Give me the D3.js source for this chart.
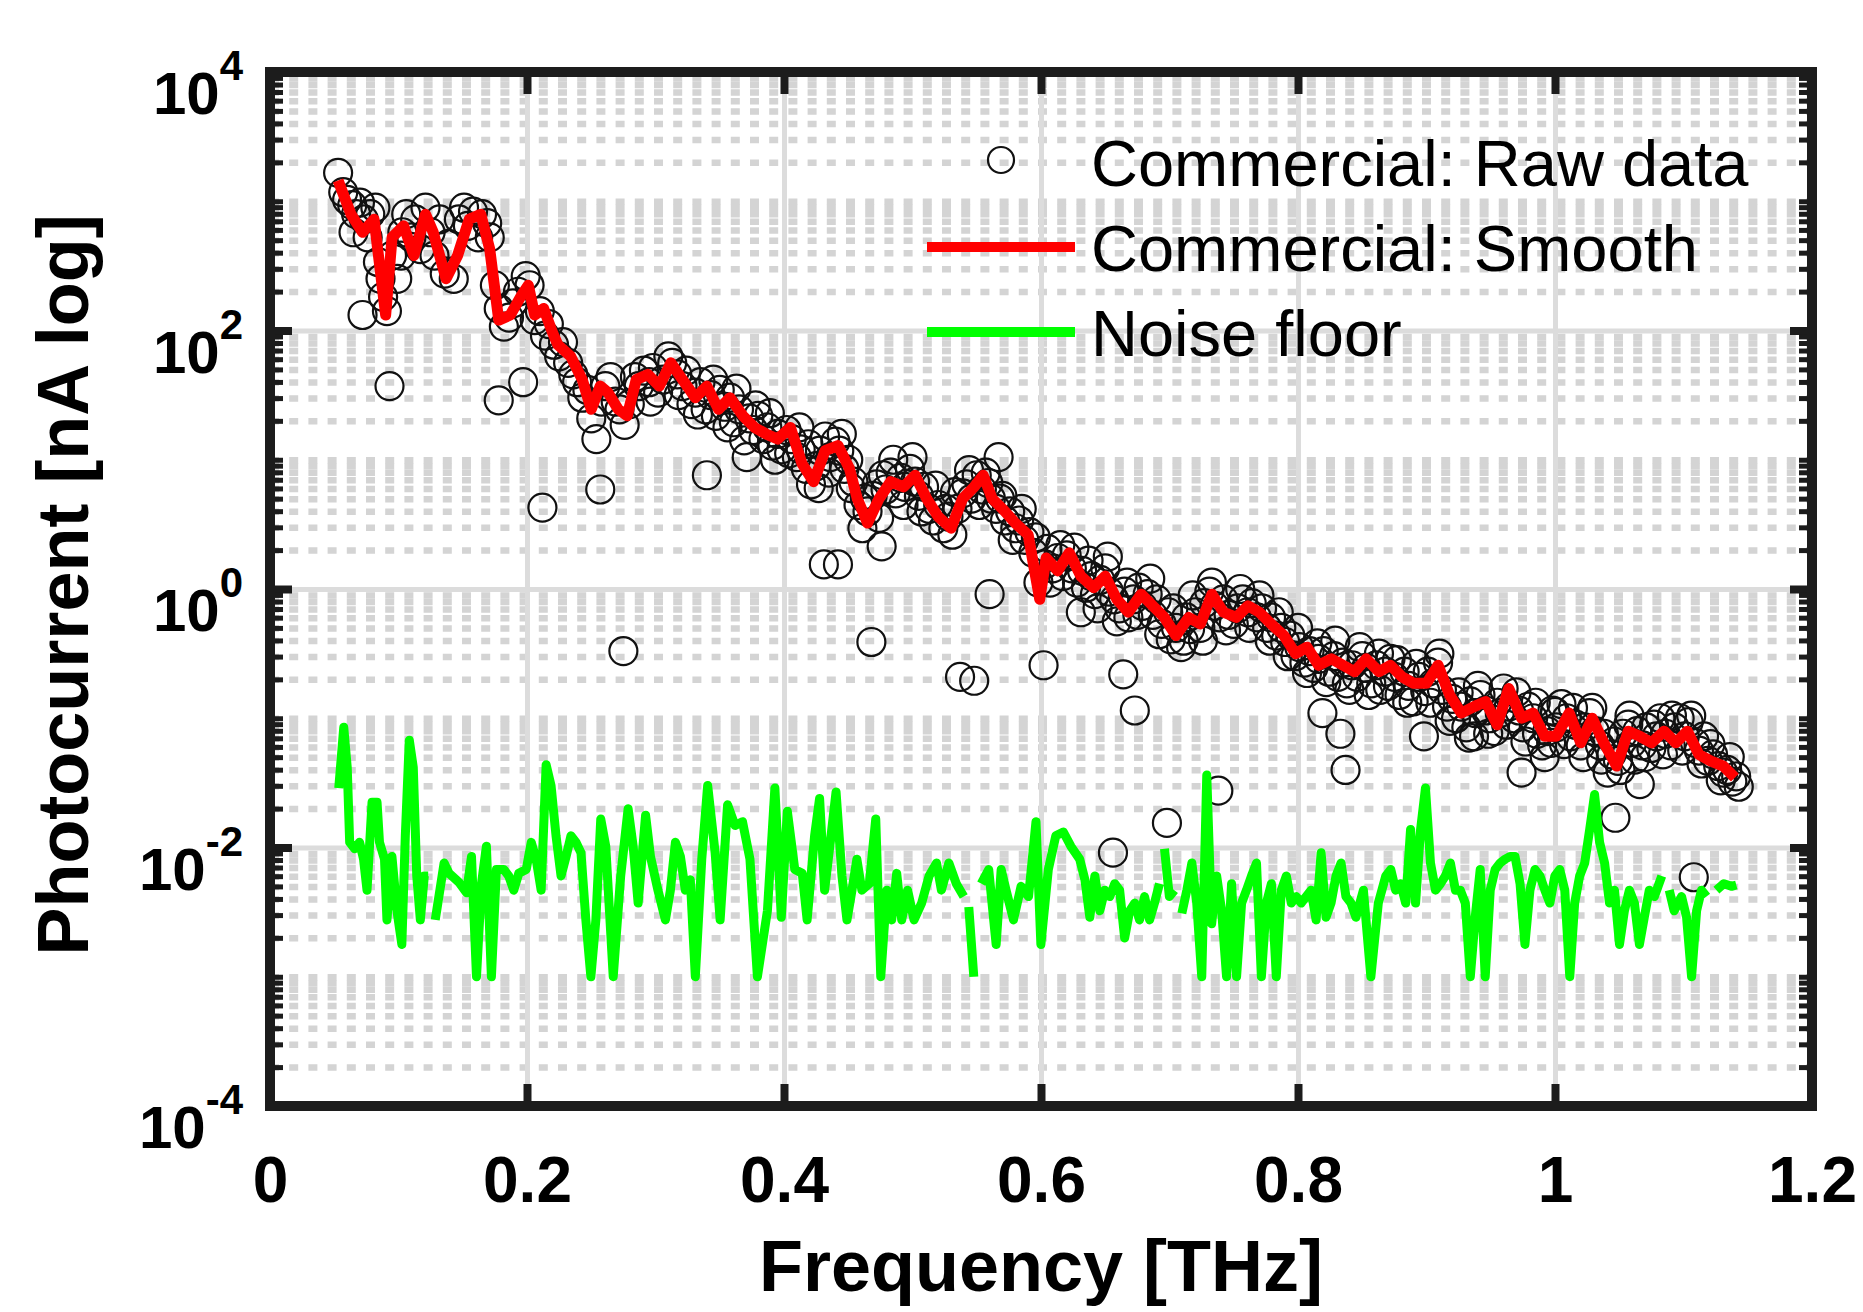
<!DOCTYPE html>
<html>
<head>
<meta charset="utf-8">
<script src="https://cdn.jsdelivr.net/npm/d3@7"></script>
<style>
    html, body { margin: 0; padding: 0; background: #fff; }
    svg { display: block; }
    text { font-family: "Liberation Sans", Arial, Helvetica, sans-serif; fill: #000; }
</style>
</head>
<body>
<svg id="chart" width="1863" height="1312"></svg>
<script>
/* Chart data */
/* ********** */

// x axis [THz]
var xTicks = [0, 0.2, 0.4, 0.6, 0.8, 1, 1.2];
var xTickLabels = ['0', '0.2', '0.4', '0.6', '0.8', '1', '1.2'];

// y axis: labelled decades, as exponents of ten
var yTickExps = [-4, -2, 0, 2, 4];

var legendLabels = ['Commercial: Raw data', 'Commercial: Smooth', 'Noise floor'];

// Raw data: [frequency THz, log10 of photocurrent in nA]
var rawData = [
    [0.053,3.22],[0.057,3.07],[0.060,3.01],[0.064,2.97],[0.065,2.76],[0.067,2.90],[0.070,2.99],[0.072,2.12],
    [0.073,2.86],[0.076,2.72],[0.078,2.90],[0.082,2.95],[0.084,2.53],[0.086,2.40],[0.088,2.26],[0.091,2.15],
    [0.093,1.57],[0.095,2.58],[0.099,2.40],[0.102,2.58],[0.103,2.76],[0.106,2.90],[0.110,2.72],[0.113,2.86],
    [0.117,2.63],[0.121,2.95],[0.125,2.76],[0.128,2.58],[0.132,2.86],[0.136,2.44],[0.139,2.67],[0.143,2.40],
    [0.147,2.86],[0.151,2.95],[0.154,2.81],[0.158,2.92],[0.162,2.72],[0.165,2.90],[0.169,2.83],[0.171,2.72],
    [0.175,2.35],[0.178,2.17],[0.178,1.46],[0.182,2.03],[0.186,2.10],[0.189,2.21],[0.193,2.30],[0.197,1.60],
    [0.199,2.42],[0.202,2.35],[0.206,2.08],[0.210,2.15],[0.212,0.63],[0.214,1.96],[0.217,2.05],[0.221,1.89],
    [0.225,1.80],[0.228,1.91],[0.232,1.75],[0.236,1.66],[0.239,1.60],[0.243,1.48],[0.247,1.54],[0.250,1.32],
    [0.254,1.16],[0.257,0.77],[0.258,1.45],[0.261,1.57],[0.265,1.64],[0.269,1.45],[0.272,1.39],[0.275,-0.48],
    [0.276,1.27],[0.280,1.43],[0.284,1.64],[0.287,1.57],[0.291,1.69],[0.295,1.60],[0.298,1.71],[0.302,1.52],
    [0.306,1.62],[0.310,1.80],[0.313,1.75],[0.317,1.66],[0.321,1.57],[0.324,1.69],[0.328,1.43],[0.331,1.52],
    [0.335,1.60],[0.339,1.39],[0.340,0.88],[0.343,1.50],[0.347,1.34],[0.350,1.54],[0.354,1.41],[0.358,1.48],
    [0.361,1.29],[0.365,1.39],[0.371,1.02],[0.373,1.32],[0.376,1.23],[0.380,1.34],[0.384,1.16],[0.387,1.25],
    [0.391,1.11],[0.395,1.20],[0.398,1.08],[0.402,1.23],[0.406,1.16],[0.410,1.02],[0.413,1.08],[0.417,0.93],
    [0.421,0.81],[0.425,0.95],[0.428,1.07],[0.431,0.19],[0.432,1.18],[0.436,1.02],[0.440,1.14],[0.442,0.19],
    [0.443,1.07],[0.447,0.93],[0.450,1.00],[0.454,0.83],[0.458,0.65],[0.461,0.47],[0.465,0.60],[0.468,-0.41],
    [0.469,0.72],[0.472,0.81],[0.476,0.33],[0.477,0.88],[0.479,0.77],[0.483,0.90],[0.487,0.74],[0.491,0.86],
    [0.494,0.79],[0.498,0.93],[0.502,0.83],[0.505,0.72],[0.509,0.79],[0.513,0.62],[0.516,0.53],[0.520,0.65],
    [0.524,0.47],[0.528,0.56],[0.531,0.42],[0.535,0.62],[0.537,-0.68],[0.539,0.74],[0.542,0.81],[0.546,0.70],
    [0.548,-0.71],[0.550,0.88],[0.554,0.77],[0.557,0.90],[0.560,-0.04],[0.561,0.70],[0.565,0.62],[0.567,1.02],
    [0.568,0.70],[0.572,0.53],[0.576,0.60],[0.580,0.47],[0.583,0.53],[0.587,0.38],[0.591,0.44],[0.594,0.28],
    [0.598,0.05],[0.602,-0.59],[0.603,0.19],[0.605,0.31],[0.609,0.16],[0.613,0.24],[0.617,0.10],[0.620,0.26],
    [0.624,0.16],[0.628,0.05],[0.631,-0.18],[0.632,0.14],[0.635,0.01],[0.639,0.10],[0.642,-0.04],[0.646,0.07],
    [0.650,0.16],[0.653,-0.02],[0.656,-2.04],[0.657,-0.08],[0.661,-0.15],[0.664,-0.66],[0.665,-0.02],[0.668,-0.22],
    [0.672,-0.08],[0.673,-0.94],[0.676,0.01],[0.679,-0.13],[0.683,-0.04],[0.687,-0.20],[0.690,-0.08],[0.694,-0.27],
    [0.698,-1.81],[0.699,-0.18],[0.701,-0.39],[0.705,-0.30],[0.709,-0.45],[0.713,-0.22],[0.716,-0.31],[0.720,-0.18],
    [0.724,-0.30],[0.727,-0.11],[0.731,-0.02],[0.735,-0.13],[0.738,-1.56],[0.739,-0.22],[0.742,-0.08],[0.746,-0.20],
    [0.750,-0.27],[0.753,-0.15],[0.757,-0.08],[0.761,-0.18],[0.764,-0.11],[0.768,-0.22],[0.772,-0.15],[0.776,-0.30],
    [0.779,-0.22],[0.783,-0.36],[0.787,-0.30],[0.790,-0.41],[0.794,-0.36],[0.798,-0.52],[0.801,-0.45],[0.805,-0.57],
    [0.809,-0.48],[0.812,-0.61],[0.816,-0.54],[0.819,-0.96],[0.820,-0.48],[0.824,-0.64],[0.828,-0.52],[0.831,-0.68],
    [0.833,-1.12],[0.835,-0.57],[0.837,-1.40],[0.838,-0.73],[0.842,-0.59],[0.846,-0.68],[0.850,-0.52],[0.853,-0.61],
    [0.857,-0.73],[0.861,-0.59],[0.864,-0.78],[0.868,-0.64],[0.872,-0.54],[0.875,-0.68],[0.879,-0.82],[0.883,-0.64],
    [0.886,-0.75],[0.890,-0.87],[0.894,-0.68],[0.898,-1.14],[0.899,-0.79],[0.901,-0.64],[0.905,-0.73],[0.909,-0.57],
    [0.912,-0.78],[0.916,-0.91],[0.920,-0.85],[0.923,-1.00],[0.927,-0.91],[0.931,-1.07],[0.934,-0.87],[0.937,-1.14],
    [0.938,-0.96],[0.942,-0.82],[0.946,-0.94],[0.949,-1.00],[0.953,-1.10],[0.957,-0.96],[0.960,-0.77],[0.964,-0.91],
    [0.968,-1.00],[0.972,-0.94],[0.974,-1.42],[0.975,-1.07],[0.979,-0.91],[0.983,-1.00],[0.986,-1.12],[0.990,-1.21],
    [0.994,-1.10],[0.997,-1.19],[0.998,-0.94],[1.001,-1.07],[1.005,-0.89],[1.009,-1.00],[1.012,-1.14],[1.016,-1.05],
    [1.020,-1.21],[1.023,-1.07],[1.027,-0.96],[1.031,-1.10],[1.035,-1.21],[1.038,-1.12],[1.041,-1.42],[1.044,-1.28],
    [1.047,-1.77],[1.049,-1.33],[1.053,-1.12],[1.057,-1.05],[1.060,-1.19],[1.064,-1.10],[1.066,-1.51],[1.068,-1.21],
    [1.071,-1.07],[1.075,-1.23],[1.079,-1.14],[1.082,-1.00],[1.086,-1.12],[1.090,-1.21],[1.093,-1.07],[1.097,-1.00],
    [1.101,-1.14],[1.104,-1.03],[1.108,-2.23],[1.109,-1.19],[1.112,-1.25],[1.116,-1.14],[1.119,-1.33],[1.123,-1.28],
    [1.127,-1.37],[1.131,-1.42],[1.134,-1.40],[1.138,-1.49],[1.143,-1.53],
    // edges of the scattered band
    [0.296,1.45],[0.318,1.50],[0.333,1.35],[0.345,1.62],[0.356,1.25],[0.363,1.55],[0.369,1.15],[0.378,1.42],
    [0.389,1.36],[0.393,1.00],[0.404,1.05],[0.412,1.25],[0.419,1.12],[0.427,0.78],[0.435,0.90],[0.445,1.20],
    [0.452,0.78],[0.463,0.70],[0.474,0.55],[0.485,1.00],[0.493,0.65],[0.500,1.02],[0.507,0.60],[0.518,0.80],
    [0.526,0.62],[0.533,0.75],[0.544,0.92],[0.552,0.65],[0.559,0.82],[0.570,0.72],[0.578,0.38],[0.585,0.62],
    [0.596,0.40],[0.607,0.05],[0.615,0.34],[0.626,0.32],[0.637,0.22],[0.644,-0.15],[0.652,0.25],[0.659,-0.25],
    [0.667,0.05],[0.675,-0.20],[0.685,0.08],[0.692,-0.35],[0.703,-0.15],[0.711,-0.40],[0.718,-0.05],[0.726,-0.40],
    [0.733,0.05],[0.744,-0.32],[0.755,0.00],[0.762,-0.30],[0.770,-0.05],[0.778,-0.40],[0.785,-0.18],[0.792,-0.52],
    [0.800,-0.30],[0.807,-0.65],[0.815,-0.42],[0.822,-0.72],[0.829,-0.40],[0.840,-0.78],[0.848,-0.45],[0.855,-0.82],
    [0.863,-0.50],[0.870,-0.75],[0.877,-0.55],[0.885,-0.88],[0.892,-0.58],[0.903,-0.88],[0.910,-0.50],[0.918,-1.02],
    [0.925,-0.80],[0.933,-1.15],[0.940,-0.75],[0.948,-1.12],[0.955,-0.88],[0.962,-1.05],[0.970,-0.80],[0.977,-1.18],
    [0.985,-0.88],[0.992,-1.30],[1.000,-0.95],[1.007,-1.20],[1.014,-0.92],[1.022,-1.30],[1.029,-0.92],[1.036,-1.32],
    [1.046,-1.18],[1.051,-1.40],[1.058,-0.98],[1.062,-1.32],[1.070,-1.30],[1.077,-1.05],[1.084,-1.28],[1.091,-0.98],
    [1.099,-1.25],[1.106,-0.98],[1.114,-1.35],[1.121,-1.20],[1.129,-1.48],[1.136,-1.30],[1.141,-1.45]
];

// Smoothed data: [frequency THz, log10 of photocurrent in nA]
var smoothData = [
    [0.053,3.16],[0.063,2.90],[0.072,2.76],[0.081,2.86],[0.090,2.12],[0.095,2.72],[0.104,2.81],[0.112,2.58],
    [0.121,2.90],[0.127,2.76],[0.137,2.40],[0.146,2.58],[0.155,2.86],[0.164,2.90],[0.171,2.63],[0.178,2.08],
    [0.187,2.12],[0.195,2.26],[0.201,2.35],[0.206,2.12],[0.213,2.17],[0.220,1.98],[0.224,1.89],[0.234,1.80],
    [0.243,1.62],[0.250,1.39],[0.257,1.57],[0.263,1.52],[0.271,1.39],[0.278,1.34],[0.285,1.62],[0.294,1.66],
    [0.303,1.57],[0.312,1.75],[0.321,1.62],[0.331,1.48],[0.340,1.57],[0.349,1.39],[0.358,1.48],[0.368,1.34],
    [0.377,1.25],[0.386,1.20],[0.395,1.16],[0.405,1.25],[0.414,0.97],[0.423,0.83],[0.432,1.07],[0.442,1.11],
    [0.451,0.93],[0.457,0.70],[0.465,0.51],[0.474,0.70],[0.483,0.83],[0.493,0.79],[0.502,0.88],[0.511,0.70],
    [0.520,0.56],[0.530,0.47],[0.539,0.70],[0.548,0.79],[0.555,0.88],[0.562,0.70],[0.571,0.61],[0.580,0.51],
    [0.590,0.42],[0.599,-0.08],[0.604,0.24],[0.613,0.14],[0.622,0.28],[0.631,0.10],[0.641,0.01],[0.650,0.10],
    [0.659,-0.08],[0.668,-0.18],[0.678,-0.04],[0.687,-0.13],[0.696,-0.22],[0.705,-0.36],[0.715,-0.22],[0.724,-0.27],
    [0.733,-0.04],[0.742,-0.18],[0.752,-0.22],[0.761,-0.13],[0.770,-0.18],[0.779,-0.27],[0.789,-0.36],[0.798,-0.50],
    [0.807,-0.45],[0.816,-0.59],[0.826,-0.54],[0.835,-0.59],[0.844,-0.64],[0.853,-0.54],[0.863,-0.64],[0.872,-0.59],
    [0.881,-0.68],[0.890,-0.73],[0.900,-0.73],[0.909,-0.59],[0.918,-0.82],[0.927,-0.96],[0.937,-0.91],[0.946,-0.87],
    [0.955,-1.05],[0.964,-0.77],[0.974,-1.00],[0.983,-0.96],[0.992,-1.14],[1.001,-1.14],[1.011,-0.96],[1.020,-1.19],
    [1.029,-1.00],[1.038,-1.19],[1.048,-1.37],[1.057,-1.10],[1.066,-1.14],[1.075,-1.19],[1.085,-1.10],[1.094,-1.19],
    [1.103,-1.10],[1.112,-1.28],[1.121,-1.33],[1.131,-1.37],[1.140,-1.46]
];

// Noise floor: [frequency THz, log10 of photocurrent in nA], null marks a gap
var noiseData = [
    [0.0535,-1.54],[0.0574,-1.07],[0.0601,-1.38],[0.0620,-1.96],[0.0659,-2.01],[0.0697,-1.96],[0.0728,-2.09],
    [0.0755,-2.33],[0.0794,-1.65],[0.0833,-1.65],[0.0852,-1.96],[0.0891,-2.09],[0.0910,-2.56],[0.0949,-2.07],
    [0.0988,-2.49],[0.1026,-2.75],[0.1053,-1.91],[0.1084,-1.17],[0.1115,-1.38],[0.1142,-2.22],[0.1170,-2.56],
    [0.1201,-2.22],[0.1231,-2.22],null,
    [0.1286,-2.56],[0.1355,-2.12],[0.1394,-2.20],[0.1471,-2.27],[0.1529,-2.35],[0.1568,-2.07],[0.1607,-3.00],
    [0.1646,-2.28],[0.1684,-1.99],[0.1723,-3.00],[0.1762,-2.17],[0.1820,-2.17],[0.1858,-2.22],[0.1897,-2.33],
    [0.1936,-2.20],[0.1994,-2.17],[0.2033,-1.96],[0.2071,-2.09],[0.2110,-2.33],[0.2149,-1.36],[0.2187,-1.52],
    [0.2226,-1.91],[0.2265,-2.22],[0.2304,-2.07],[0.2342,-1.91],[0.2381,-1.96],[0.2420,-2.04],[0.2458,-2.56],
    [0.2497,-3.00],[0.2536,-2.56],[0.2574,-1.78],[0.2613,-1.99],[0.2671,-3.00],[0.2729,-2.22],[0.2787,-1.70],
    [0.2826,-1.99],[0.2865,-2.43],[0.2923,-1.75],[0.2961,-2.07],[0.3019,-2.33],[0.3077,-2.56],[0.3116,-2.33],
    [0.3155,-1.96],[0.3194,-2.07],[0.3232,-2.33],[0.3271,-2.25],[0.3310,-3.00],[0.3360,-2.09],[0.3406,-1.52],
    [0.3464,-2.04],[0.3503,-2.56],[0.3561,-1.67],[0.3619,-1.83],[0.3677,-1.80],[0.3735,-2.09],[0.3793,-3.00],
    [0.3871,-2.49],[0.3929,-1.54],[0.3979,-2.54],[0.4026,-1.72],[0.4084,-2.17],[0.4142,-2.20],[0.4180,-2.56],
    [0.4238,-1.91],[0.4277,-1.62],[0.4316,-2.33],[0.4366,-1.91],[0.4405,-1.57],[0.4451,-2.22],[0.4490,-2.56],
    [0.4529,-2.33],[0.4567,-2.09],[0.4606,-2.33],[0.4664,-2.28],[0.4714,-1.78],[0.4753,-3.00],[0.4800,-2.33],
    [0.4838,-2.56],[0.4877,-2.20],[0.4916,-2.56],[0.4962,-2.33],[0.5012,-2.56],[0.5071,-2.43],[0.5129,-2.22],
    [0.5187,-2.12],[0.5225,-2.33],[0.5283,-2.12],[0.5341,-2.28],[0.5399,-2.38],null,
    [0.5438,-2.46],[0.5477,-3.00],null,
    [0.5535,-2.28],[0.5593,-2.17],[0.5651,-2.75],[0.5690,-2.17],[0.5728,-2.33],[0.5786,-2.56],[0.5845,-2.30],
    [0.5903,-2.38],[0.5961,-1.80],[0.5999,-2.75],[0.6057,-2.17],[0.6115,-1.91],[0.6174,-1.88],[0.6232,-1.99],
    [0.6301,-2.09],[0.6342,-2.25],[0.6380,-2.54],[0.6419,-2.22],[0.6458,-2.49],[0.6496,-2.33],[0.6535,-2.38],
    [0.6574,-2.28],[0.6612,-2.33],[0.6651,-2.70],[0.6690,-2.49],[0.6729,-2.43],[0.6767,-2.56],[0.6806,-2.38],
    [0.6845,-2.56],[0.6883,-2.43],[0.6922,-2.28],null,
    [0.6961,-2.01],[0.6999,-2.38],[0.7038,-2.33],null,
    [0.7096,-2.51],[0.7135,-2.33],[0.7174,-2.12],[0.7212,-2.43],[0.7251,-3.00],[0.7290,-1.44],[0.7328,-2.59],
    [0.7367,-2.22],[0.7406,-2.49],[0.7444,-3.00],[0.7483,-2.28],[0.7522,-3.00],[0.7561,-2.43],[0.7599,-2.33],
    [0.7638,-2.22],[0.7677,-2.12],[0.7715,-3.00],[0.7754,-2.43],[0.7793,-2.28],[0.7831,-3.00],[0.7870,-2.33],
    [0.7909,-2.22],[0.7948,-2.43],[0.7986,-2.38],[0.8025,-2.43],[0.8064,-2.38],[0.8102,-2.33],[0.8141,-2.56],
    [0.8180,-2.04],[0.8218,-2.54],[0.8257,-2.43],[0.8296,-2.22],[0.8335,-2.12],[0.8373,-2.38],[0.8412,-2.43],
    [0.8451,-2.54],[0.8509,-2.33],[0.8567,-3.00],[0.8625,-2.43],[0.8683,-2.22],[0.8722,-2.17],[0.8760,-2.33],
    [0.8799,-2.28],[0.8838,-2.43],[0.8876,-1.86],[0.8915,-2.43],[0.8954,-1.86],[0.8992,-1.54],[0.9031,-2.12],
    [0.9070,-2.33],[0.9109,-2.28],[0.9147,-2.22],[0.9186,-2.12],[0.9225,-2.33],[0.9263,-2.33],[0.9302,-2.43],
    [0.9341,-3.00],[0.9379,-2.54],[0.9418,-2.17],[0.9457,-3.00],[0.9496,-2.33],[0.9534,-2.17],[0.9573,-2.12],
    [0.9612,-2.09],[0.9650,-2.07],[0.9689,-2.07],[0.9728,-2.28],[0.9766,-2.75],[0.9805,-2.33],[0.9844,-2.17],
    [0.9883,-2.22],[0.9921,-2.33],[0.9960,-2.43],[0.9999,-2.22],[1.0037,-2.17],[1.0076,-2.33],[1.0115,-3.00],
    [1.0153,-2.43],[1.0192,-2.22],[1.0231,-2.12],[1.0270,-1.86],[1.0308,-1.59],[1.0347,-1.96],[1.0386,-2.12],
    [1.0424,-2.43],[1.0463,-2.33],[1.0502,-2.75],[1.0540,-2.49],[1.0579,-2.33],[1.0618,-2.43],[1.0657,-2.75],
    [1.0695,-2.54],[1.0734,-2.33],[1.0773,-2.38],[1.0831,-2.22],null,
    [1.0889,-2.33],[1.0927,-2.49],[1.0985,-2.38],[1.1024,-2.54],[1.1063,-3.00],[1.1102,-2.49],[1.1140,-2.33],
    [1.1179,-2.38],null,
    [1.1256,-2.33],[1.1314,-2.28],[1.1373,-2.30],[1.1411,-2.29]
];


/* Layout */
/* ****** */
var svg = d3.select('#chart');

var box = { left: 270, right: 1812, top: 72, bottom: 1106 };
var plotW = box.right - box.left;
var plotH = box.bottom - box.top;

var x = d3.scaleLinear().domain([0, 1.2]).range([box.left, box.right]);
var y = d3.scaleLog().domain([1e-4, 1e4]).range([box.bottom, box.top]);

var toValue = function (d) {
    return d === null ? null : { f: d[0], v: Math.pow(10, d[1]) };
};
var raw = rawData.map(toValue);
var smooth = smoothData.map(toValue);
var noise = noiseData.map(toValue);

// Labelled decades vs. all the other log ticks
var yMajor = yTickExps.map(function (e) { return Math.pow(10, e); });
var isMajor = function (v) {
    return yMajor.some(function (m) { return Math.abs(Math.log10(v) - Math.log10(m)) < 1e-6; });
};
var yMinor = y.ticks().filter(function (v) { return !isMajor(v); });
var xInner = xTicks.filter(function (t) { return t > 0 && t < 1.2; });


/* Grid */
/* **** */
var grid = svg.append('g').attr('class', 'grid');

// dotted minor grid (log minor positions); the dots line up into stripes
grid.append('g')
    .attr('transform', 'translate(' + box.left + ',0)')
    .call(d3.axisLeft(y).tickValues(yMinor).tickSize(-plotW).tickFormat(''))
    .call(function (g) {
        g.select('.domain').remove();
        g.selectAll('line')
            .attr('stroke', '#d4d4d4')
            .attr('stroke-width', 6.5)
            .attr('stroke-dasharray', '9,10.2');
    });

// solid major grid
grid.append('g')
    .attr('transform', 'translate(' + box.left + ',0)')
    .call(d3.axisLeft(y).tickValues(yMajor.slice(1, -1)).tickSize(-plotW).tickFormat(''))
    .call(function (g) {
        g.select('.domain').remove();
        g.selectAll('line').attr('stroke', '#dcdcdc').attr('stroke-width', 5);
    });

grid.append('g')
    .attr('transform', 'translate(0,' + box.bottom + ')')
    .call(d3.axisBottom(x).tickValues(xInner).tickSize(-plotH).tickFormat(''))
    .call(function (g) {
        g.select('.domain').remove();
        g.selectAll('line').attr('stroke', '#dcdcdc').attr('stroke-width', 5);
    });


/* Data */
/* **** */
var plot = svg.append('g').attr('class', 'data');

plot.append('g')
    .selectAll('circle')
    .data(raw)
    .enter()
    .append('circle')
    .attr('cx', function (d) { return x(d.f); })
    .attr('cy', function (d) { return y(d.v); })
    .attr('r', 14)
    .attr('fill', 'none')
    .attr('stroke', '#111')
    .attr('stroke-width', 2.2);

var line = d3.line()
    .defined(function (d) { return d !== null; })
    .x(function (d) { return x(d.f); })
    .y(function (d) { return y(d.v); });

plot.append('path')
    .datum(smooth)
    .attr('d', line)
    .attr('fill', 'none')
    .attr('stroke', '#ff0000')
    .attr('stroke-width', 11)
    .attr('stroke-linejoin', 'round');

plot.append('path')
    .datum(noise)
    .attr('d', line)
    .attr('fill', 'none')
    .attr('stroke', '#00ff00')
    .attr('stroke-width', 9)
    .attr('stroke-linejoin', 'round');


/* Axes box and inward ticks */
/* ************************* */
var axes = svg.append('g').attr('class', 'axes');
var axisColor = '#1c1c1c';

var styleTicks = function (width) {
    return function (g) {
        g.select('.domain').remove();
        g.selectAll('line').attr('stroke', axisColor).attr('stroke-width', width);
    };
};

// x major ticks, bottom and top
axes.append('g')
    .attr('transform', 'translate(0,' + box.bottom + ')')
    .call(d3.axisBottom(x).tickValues(xInner).tickSize(-22).tickFormat(''))
    .call(styleTicks(8));
axes.append('g')
    .attr('transform', 'translate(0,' + box.top + ')')
    .call(d3.axisTop(x).tickValues(xInner).tickSize(-22).tickFormat(''))
    .call(styleTicks(8));

// y ticks, left and right
axes.append('g')
    .attr('transform', 'translate(' + box.left + ',0)')
    .call(d3.axisLeft(y).tickValues(yMajor).tickSize(-22).tickFormat(''))
    .call(styleTicks(8));
axes.append('g')
    .attr('transform', 'translate(' + box.left + ',0)')
    .call(d3.axisLeft(y).tickValues(yMinor).tickSize(-13).tickFormat(''))
    .call(styleTicks(5));
axes.append('g')
    .attr('transform', 'translate(' + box.right + ',0)')
    .call(d3.axisRight(y).tickValues(yMajor).tickSize(-22).tickFormat(''))
    .call(styleTicks(8));
axes.append('g')
    .attr('transform', 'translate(' + box.right + ',0)')
    .call(d3.axisRight(y).tickValues(yMinor).tickSize(-13).tickFormat(''))
    .call(styleTicks(5));

axes.append('rect')
    .attr('x', box.left)
    .attr('y', box.top)
    .attr('width', plotW)
    .attr('height', plotH)
    .attr('fill', 'none')
    .attr('stroke', axisColor)
    .attr('stroke-width', 10);


/* Tick labels */
/* *********** */
axes.append('g')
    .attr('transform', 'translate(0,' + box.bottom + ')')
    .call(d3.axisBottom(x).tickValues(xTicks).tickSize(0).tickPadding(51)
        .tickFormat(function (d, i) { return xTickLabels[i]; }))
    .call(function (g) {
        g.select('.domain').remove();
        g.selectAll('text')
            .attr('fill', '#000')
            .style('font-size', '64px')
            .style('font-weight', 'bold')
            .style('font-family', '"Liberation Sans", Arial, Helvetica, sans-serif');
    });

var yLabels = axes.append('g')
    .selectAll('text')
    .data(yTickExps)
    .enter()
    .append('text')
    .attr('x', 243)
    .attr('y', function (e) { return y(Math.pow(10, e)) + 42; })
    .attr('text-anchor', 'end')
    .style('font-size', '60px')
    .style('font-weight', 'bold');
yLabels.append('tspan').text('10');
yLabels.append('tspan')
    .attr('dy', -34)
    .style('font-size', '42px')
    .text(function (e) { return String(e); });


/* Axis titles */
/* *********** */
svg.append('text')
    .attr('x', (box.left + box.right) / 2)
    .attr('y', 1291)
    .attr('text-anchor', 'middle')
    .style('font-size', '72px')
    .style('font-weight', 'bold')
    .text('Frequency [THz]');

svg.append('text')
    .attr('transform', 'translate(88,585) rotate(-90)')
    .attr('text-anchor', 'middle')
    .style('font-size', '72px')
    .style('font-weight', 'bold')
    .text('Photocurrent [nA log]');


/* Legend */
/* ****** */
var legend = svg.append('g').attr('class', 'legend');
var legendRows = [186, 271, 356];
var legendTextX = 1091;

legend.append('circle')
    .attr('cx', 1001)
    .attr('cy', legendRows[0] - 26)
    .attr('r', 13)
    .attr('fill', 'none')
    .attr('stroke', '#111')
    .attr('stroke-width', 2.2);

legend.append('line')
    .attr('x1', 927).attr('x2', 1075)
    .attr('y1', legendRows[1] - 24).attr('y2', legendRows[1] - 24)
    .attr('stroke', '#ff0000')
    .attr('stroke-width', 10);

legend.append('line')
    .attr('x1', 927).attr('x2', 1075)
    .attr('y1', legendRows[2] - 24).attr('y2', legendRows[2] - 24)
    .attr('stroke', '#00ff00')
    .attr('stroke-width', 10);

legend.selectAll('text')
    .data(legendLabels)
    .enter()
    .append('text')
    .attr('x', legendTextX)
    .attr('y', function (d, i) { return legendRows[i]; })
    .style('font-size', '65px')
    .text(function (d) { return d; });
</script>
</body>
</html>
